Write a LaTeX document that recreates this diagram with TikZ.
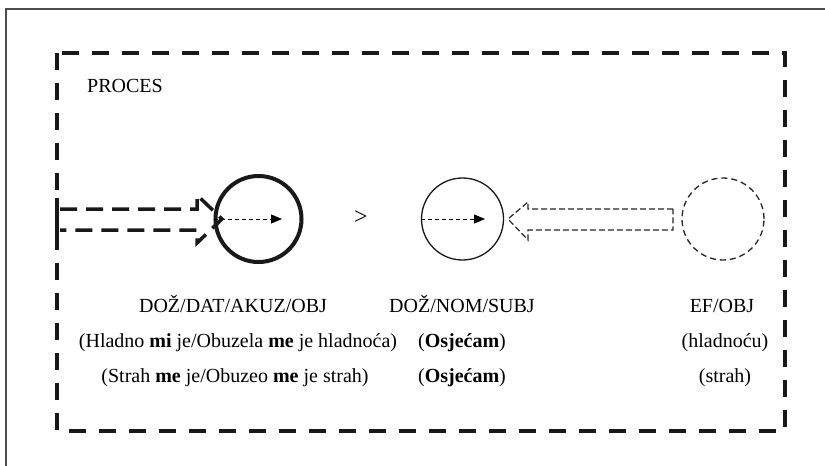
\documentclass[tikz,border=0pt]{standalone}
\usepackage{fontspec}
\setmainfont{Liberation Serif}
\usetikzlibrary{arrows.meta,calc}
\begin{document}
\begin{tikzpicture}[x=1pt,y=-1pt,
  frameline/.style={draw=black!70, line width=2pt},
  procbox/.style={draw=black!90, line width=4pt, dash pattern=on 17pt off 13pt},
  bigarrow/.style={draw=black!90, line width=3.5pt, dash pattern=on 17pt off 9pt},
  hollowarrow/.style={draw=black!85, line width=1.2pt, dash pattern=on 6pt off 3pt},
  inarrow/.style={draw=black, line width=0.9pt, dash pattern=on 4pt off 3pt, -{Triangle[length=11pt,width=9pt]}},
  lbl/.style={font=\fontsize{20}{23}\selectfont, inner sep=0pt, anchor=base},
  ringthick/.style={circle, draw=black!90, line width=4pt, inner sep=0pt},
  ringthin/.style={circle, draw=black!90, line width=1.3pt, inner sep=0pt},
  ringdash/.style={circle, draw=black!85, line width=1.3pt, inner sep=0pt, dash pattern=on 6pt off 4pt},
]
\useasboundingbox (0,0) rectangle (825,466);
\fill[white] (0,0) rectangle (825,466);

% outer frame (partly visible)
\draw[frameline] (6,466) -- (6,9) -- (825,9);

% process box
\draw[procbox] (57,53) rectangle (785,431);
\node[lbl, anchor=base west] (proc) at (87,92.5) {PROCES};

% circles
\node[ringthick, minimum size=86pt] (c1) at (258.5,219) {};
\node[ringthin, minimum size=82pt] (c2) at (462.5,219) {};
\node[ringdash, minimum size=82pt] (c3) at (723,219) {};

% inner arrows
\coordinate (t1) at (282,219);
\coordinate (t2) at (485,219);
\draw[inarrow] (c1.west) -- (t1);
\draw[inarrow] (c2.west) -- (t2);

% big dashed arrow from the left
\draw[black!90, line width=3.5pt] (57,198) -- (57,242);
\draw[bigarrow] (60,209) -- (197,209) -- (197,195) -- (222,219) -- (197,243) -- (197,230) -- (60,230);

% hollow dashed arrow from c3 to c2
\draw[hollowarrow] (673,209) -- (528,209) -- (528,202) -- (508,219) -- (528,240) -- (528,230) -- (673,230) -- cycle;

% greater-than sign
\node[font=\fontsize{24}{26}\selectfont, inner sep=0pt] (gt) at (361,217.5) {>};

% labels
\node[lbl] (l1) at (233,312) {DOŽ/DAT/AKUZ/OBJ};
\node[lbl] (l2) at (462,312) {DOŽ/NOM/SUBJ};
\node[lbl] (l3) at (722,312) {EF/OBJ};

\node[lbl] (a1) at (238,347) {(Hladno \textbf{mi} je/Obuzela \textbf{me} je hladnoća)};
\node[lbl] (a2) at (462,347) {(\textbf{Osjećam})};
\node[lbl] (a3) at (725,347) {(hladnoću)};

\node[lbl] (b1) at (235,382) {(Strah \textbf{me} je/Obuzeo \textbf{me} je strah)};
\node[lbl] (b2) at (462,382) {(\textbf{Osjećam})};
\node[lbl] (b3) at (725,382) {(strah)};
\end{tikzpicture}
\end{document}
